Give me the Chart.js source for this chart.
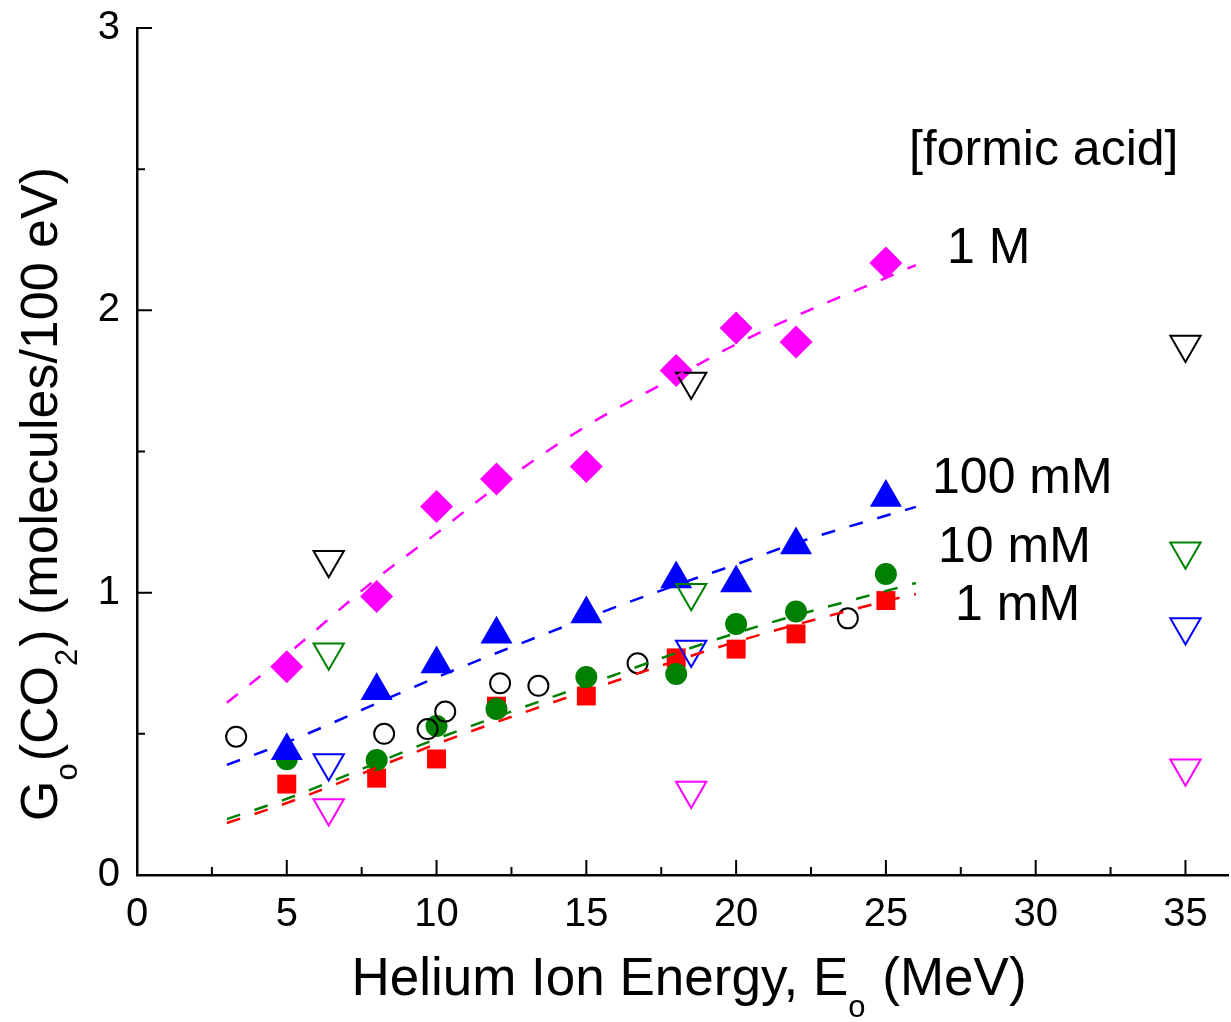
<!DOCTYPE html>
<html>
<head>
<meta charset="utf-8">
<script src="https://cdn.jsdelivr.net/npm/chart.js@4.4.1/dist/chart.umd.min.js"></script>
<style>
  html, body { margin: 0; padding: 0; background: #fff; }
  #wrap { width: 1231px; height: 1022px; }
</style>
</head>
<body>
<div id="wrap"><canvas id="chart" width="1231" height="1022"></canvas></div>
<script>
// helium ion energy (MeV) of the four concentration series
const energy = [5, 8, 10, 12, 15, 18, 20, 22, 25];
const g1M    = [0.738, 0.986, 1.305, 1.403, 1.447, 1.787, 1.937, 1.888, 2.168];
const g100mM = [0.44, 0.653, 0.747, 0.853, 0.924, 1.048, 1.034, 1.169, 1.337];
const g10mM  = [0.41, 0.407, 0.528, 0.588, 0.701, 0.712, 0.889, 0.933, 1.066];
const g1mM   = [0.322, 0.343, 0.411, 0.598, 0.634, 0.769, 0.80, 0.854, 0.972];

// open circles (other measurements)
const otherE = [3.31, 8.25, 9.70, 10.29, 12.12, 13.4, 16.71, 23.73];
const otherG = [0.49, 0.50, 0.517, 0.579, 0.679, 0.67, 0.75, 0.909];

// open down triangles
const invE       = [6.4, 18.5, 35];
const invBlack   = [1.117, 1.748, 1.879];
const invGreen   = [0.789, 1.0, 1.147];
const invBlue    = [0.397, 0.799, 0.878];
const invMagenta = [0.237, 0.299, 0.378];

// dashed fit curves
const fitE1M  = [3, 5, 8, 10, 12, 15, 18, 20, 22, 25, 26];
const fit1M   = [0.61, 0.78, 1.05, 1.21, 1.375, 1.59, 1.765, 1.88, 1.98, 2.115, 2.16];
const fitE100 = [3, 5, 10, 15, 18, 20, 22, 26];
const fit100  = [0.39, 0.47, 0.70, 0.91, 1.027, 1.10, 1.176, 1.304];
const fitELow = [3, 5, 10, 15, 20, 25, 26];
const fit10   = [0.198, 0.27, 0.482, 0.673, 0.857, 1.006, 1.034];
const fit1    = [0.184, 0.255, 0.464, 0.652, 0.826, 0.97, 0.995];

// axis ticks
const xTicks = [0, 5, 10, 15, 20, 25, 30, 35];
const xMinor = [2.5, 7.5, 12.5, 17.5, 22.5, 27.5, 32.5];
const yTicks = [0, 1, 2, 3];
const yMinor = [0.5, 1.5, 2.5];

// concentration labels [text, x, y]
const labels = [
  ['[formic acid]', 25.77, 2.515],
  ['1 M', 27.04, 2.168],
  ['100 mM', 26.54, 1.353],
  ['10 mM', 26.74, 1.109],
  ['1 mM', 27.31, 0.903]
];

const FONT = '"Liberation Sans", Arial, Helvetica, sans-serif';
Chart.defaults.font.family = FONT;
Chart.defaults.color = '#000';

const pts = (xs, ys) => xs.map((v, i) => ({ x: v, y: ys[i] }));

function fitLine(xs, ys, color) {
  return {
    data: pts(xs, ys), showLine: true, pointRadius: 0,
    borderColor: color, borderWidth: 2.5, borderDash: [14, 15],
    cubicInterpolationMode: 'monotone', fill: false
  };
}

function marker(xs, ys, style, r, color, filled, rot) {
  return {
    data: pts(xs, ys), showLine: false,
    pointStyle: style, pointRadius: r, pointRotation: rot || 0,
    pointBackgroundColor: filled ? color : 'rgba(0,0,0,0)',
    pointBorderColor: color, pointBorderWidth: filled ? 0 : 2
  };
}

// draws text pieces, some as subscripts, along the current x direction
function drawParts(ctx, parts, x, y, size, subSize, shift) {
  let cx = x;
  parts.forEach(p => {
    ctx.font = (p.sub ? subSize : size) + 'px ' + FONT;
    ctx.fillText(p.t, cx, p.sub ? y + shift : y);
    cx += ctx.measureText(p.t).width + (p.sub ? 2 : 0);
  });
}
function partsWidth(ctx, parts, size, subSize) {
  let w = 0;
  parts.forEach(p => {
    ctx.font = (p.sub ? subSize : size) + 'px ' + FONT;
    w += ctx.measureText(p.t).width + (p.sub ? 2 : 0);
  });
  return w;
}

// keep the plot box fixed: no extra label padding from the scales
function fixBox(s, key, val) {
  s[key] = val;
  s.paddingTop = 0; s.paddingBottom = 0; s.paddingLeft = 0; s.paddingRight = 0;
}

const decor = {
  id: 'decor',
  afterDraw(chart) {
    const { ctx, chartArea: a, scales: { x, y } } = chart;
    ctx.save();
    ctx.strokeStyle = '#000';
    ctx.lineWidth = 2;
    ctx.beginPath();
    xTicks.forEach(v => { const p = x.getPixelForValue(v); ctx.moveTo(p, a.bottom); ctx.lineTo(p, a.bottom - 15); });
    xMinor.forEach(v => { const p = x.getPixelForValue(v); ctx.moveTo(p, a.bottom); ctx.lineTo(p, a.bottom - 8); });
    yTicks.forEach(v => { const p = y.getPixelForValue(v); ctx.moveTo(a.left, p); ctx.lineTo(a.left + 15, p); });
    yMinor.forEach(v => { const p = y.getPixelForValue(v); ctx.moveTo(a.left, p); ctx.lineTo(a.left + 8, p); });
    ctx.stroke();

    ctx.fillStyle = '#000';
    ctx.textBaseline = 'alphabetic';
    ctx.textAlign = 'left';

    // x title
    const xt = [{ t: 'Helium Ion Energy, E' }, { t: 'o', sub: true }, { t: ' (MeV)' }];
    const xw = partsWidth(ctx, xt, 53, 31);
    drawParts(ctx, xt, 689 - xw / 2, 995, 53, 31, 22);

    // y title
    const yt = [{ t: 'G' }, { t: 'o', sub: true }, { t: '(CO' }, { t: '2', sub: true }, { t: ') (molecules/100 eV)' }];
    const yw = partsWidth(ctx, yt, 52, 31);
    ctx.save();
    ctx.translate(57, 494);
    ctx.rotate(-Math.PI / 2);
    drawParts(ctx, yt, -yw / 2, 0, 52, 31, 20);
    ctx.restore();

    // concentration labels
    ctx.font = '50px ' + FONT;
    labels.forEach(([t, lx, ly]) => {
      ctx.fillText(t, x.getPixelForValue(lx), y.getPixelForValue(ly));
    });
    ctx.restore();
  }
};

new Chart(document.getElementById('chart'), {
  type: 'scatter',
  data: {
    datasets: [
      fitLine(fitE1M, fit1M, '#ff00ff'),
      fitLine(fitE100, fit100, '#0000ff'),
      fitLine(fitELow, fit10, '#008000'),
      fitLine(fitELow, fit1, '#ff0000'),
      marker(invE, invBlack, 'triangle', 17.5, '#000000', false, 180),
      marker(invE, invGreen, 'triangle', 17.5, '#008000', false, 180),
      marker(invE, invBlue, 'triangle', 17.5, '#0000ff', false, 180),
      marker(invE, invMagenta, 'triangle', 17.5, '#ff00ff', false, 180),
      marker(otherE, otherG, 'circle', 10, '#000000', false),
      marker(energy, g100mM, 'triangle', 18.5, '#0000ff', true),
      marker(energy, g1M, 'rectRot', 16.5, '#ff00ff', true),
      marker(energy, g10mM, 'circle', 11, '#008000', true),
      marker(energy, g1mM, 'rect', 13.4, '#ff0000', true)
    ]
  },
  options: {
    responsive: false,
    devicePixelRatio: 1,
    animation: false,
    events: [],
    layout: { autoPadding: false, padding: { left: 0, right: 3, top: 28, bottom: 0 } },
    plugins: { legend: { display: false }, tooltip: { enabled: false } },
    scales: {
      x: {
        type: 'linear', min: 0, max: 36.42,
        afterFit: s => fixBox(s, 'height', 147),
        afterBuildTicks: s => { s.ticks = xTicks.map(v => ({ value: v })); },
        grid: { drawOnChartArea: false, drawTicks: false },
        border: { color: '#000', width: 2.5 },
        ticks: { color: '#000', font: { size: 40 }, padding: 16, maxRotation: 0, autoSkip: false }
      },
      y: {
        type: 'linear', min: 0, max: 3,
        afterFit: s => fixBox(s, 'width', 137),
        afterBuildTicks: s => { s.ticks = yTicks.map(v => ({ value: v })); },
        grid: { drawOnChartArea: false, drawTicks: false },
        border: { color: '#000', width: 2.5 },
        ticks: { color: '#000', font: { size: 40 }, padding: 17, autoSkip: false }
      }
    }
  },
  plugins: [decor]
});
</script>
</body>
</html>
